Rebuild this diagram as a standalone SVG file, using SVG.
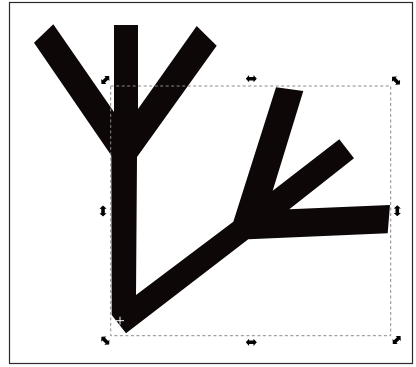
<svg xmlns="http://www.w3.org/2000/svg" xmlns:xlink="http://www.w3.org/1999/xlink" width="416" height="367" viewBox="0 0 416 367">
<style>
.shape{fill:#0d0707}
.handle{fill:#000}
</style>
<defs>
<path id="arr" d="M-5.5,0 L-2.2,-3.6 L-2.2,-1.8 L2.2,-1.8 L2.2,-3.6 L5.5,0 L2.2,3.6 L2.2,1.8 L-2.2,1.8 L-2.2,3.6 Z"/>
</defs>
<rect x="0" y="0" width="416" height="367" fill="#fff"/>
<rect x="9.5" y="2.5" width="403" height="361" fill="none" stroke="#2a2a2a" stroke-width="1.2"/>
<g id="figure" class="shape">
<path d="M34,42.7 L53.3,24.3 L114,112 L114,25 L138,25 L138,109 L196.7,26 L216.7,45.7 L137,157 L136,295 L233.3,221.7 L276,87.3 L303.3,91 L272.7,190.7 L339.3,139.3 L354,158.3 L289.3,209.3 L390,205 L387.7,233.3 L248.3,239.3 L126,333.3 L111.7,315 L111.3,155.5 Z"/>
</g>
<g id="selection">
<rect x="110.7" y="86" width="280" height="249.7" fill="none" stroke="#8a8a8a" stroke-width="1" stroke-dasharray="3,2.5"/>
<path d="M116,320.7 H124 M120,316.7 V324.7" stroke="#fff" stroke-width="1"/>
</g>
<g id="handles" class="handle">
<use xlink:href="#arr" transform="translate(105.3,80) rotate(-45)"/>
<use xlink:href="#arr" transform="translate(251.3,78.7)"/>
<use xlink:href="#arr" transform="translate(396,80.7) rotate(45)"/>
<use xlink:href="#arr" transform="translate(103,211) rotate(90)"/>
<use xlink:href="#arr" transform="translate(397.3,210.7) rotate(90)"/>
<use xlink:href="#arr" transform="translate(105.3,340.7) rotate(45)"/>
<use xlink:href="#arr" transform="translate(251.3,342.3)"/>
<use xlink:href="#arr" transform="translate(396.7,340) rotate(-45)"/>
</g>
</svg>
